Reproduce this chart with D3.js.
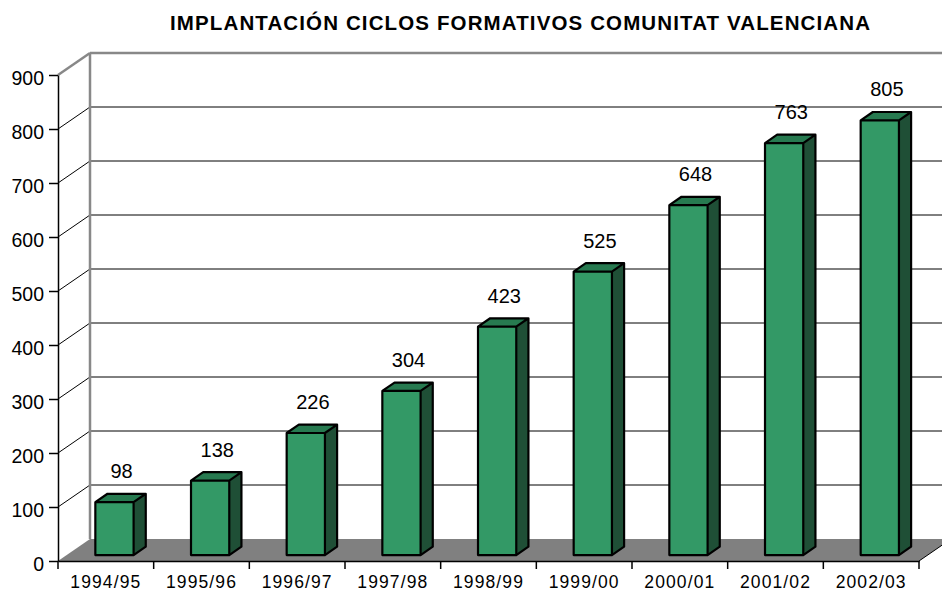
<!DOCTYPE html>
<html>
<head>
<meta charset="utf-8">
<script src="https://cdn.jsdelivr.net/npm/d3@7"></script>
<style>
    body { margin: 0; background: #fff; }
    text { font-family: "Liberation Sans", Arial, sans-serif; }
</style>
</head>
<body>
<script>
var years = ["1994/95", "1995/96", "1996/97", "1997/98", "1998/99", "1999/00", "2000/01", "2001/02", "2002/03"];
var ciclos = [98, 138, 226, 304, 423, 525, 648, 763, 805];
var yTicks = [0, 100, 200, 300, 400, 500, 600, 700, 800, 900];
var title = "IMPLANTACIÓN CICLOS FORMATIVOS COMUNITAT VALENCIANA";

var width = 942;
var height = 593;

//depth of the 3d box
var depthX = 32;
var depthY = -22;

var svg = d3.select("body").append("svg")
    .attr("width", width)
    .attr("height", height)

var x = d3.scaleBand()
    .domain(years)
    .range([58, 919]);

var y = d3.scaleLinear()
    .domain([0, 900])
    .range([561, 75]);

//floor
svg.append("polygon")
    .attr("points", [
        [x.range()[0], y(0)],
        [x.range()[1], y(0)],
        [x.range()[1] + depthX, y(0) + depthY],
        [x.range()[0] + depthX, y(0) + depthY]
    ].join(" "))
    .attr("fill", "#808080");

svg.append("line")
    .attr("x1", x.range()[1]).attr("y1", y(0))
    .attr("x2", x.range()[1] + depthX).attr("y2", y(0) + depthY)
    .attr("stroke", "#000").attr("stroke-width", 1);

//gridlines on back wall and side wall
var grid = svg.append("g");
yTicks.filter(d => d > 0).forEach(function (d) {
    var top = d === 900;
    grid.append("line")
        .attr("x1", x.range()[0] + depthX).attr("y1", y(d) + depthY)
        .attr("x2", x.range()[1] + depthX).attr("y2", y(d) + depthY)
        .attr("stroke", top ? "#888" : "#000")
        .attr("stroke-width", top ? 2.5 : 1);
    grid.append("line")
        .attr("x1", x.range()[0]).attr("y1", y(d))
        .attr("x2", x.range()[0] + depthX).attr("y2", y(d) + depthY)
        .attr("stroke", top ? "#888" : "#000")
        .attr("stroke-width", top ? 2.5 : 1);
});

//back wall left edge
svg.append("line")
    .attr("x1", x.range()[0] + depthX).attr("y1", y(900) + depthY)
    .attr("x2", x.range()[0] + depthX).attr("y2", y(0) + depthY)
    .attr("stroke", "#888").attr("stroke-width", 2.5);

//bars
var barW = x.bandwidth() * 0.4;
var frontD = 0.27;
var barD = 0.38;
var bdx = depthX * barD, bdy = depthY * barD;

var bars = svg.selectAll(".bar")
    .data(ciclos)
    .enter()
    .append("g")
    .attr("class", "bar")
    .attr("transform", function (d, i) {
        var bx = x(years[i]) + (x.bandwidth() - barW) / 2 + depthX * frontD;
        return "translate(" + bx + "," + (depthY * frontD) + ")";
    });

bars.append("polygon")
    .attr("points", function (d) {
        return [[barW, y(d)], [barW + bdx, y(d) + bdy], [barW + bdx, y(0) + bdy], [barW, y(0)]].join(" ");
    })
    .attr("fill", "#1f4f36");

bars.append("polygon")
    .attr("points", function (d) {
        return [[0, y(d)], [bdx, y(d) + bdy], [barW + bdx, y(d) + bdy], [barW, y(d)]].join(" ");
    })
    .attr("fill", "#277a50");

bars.append("rect")
    .attr("x", 0)
    .attr("y", function (d) { return y(d); })
    .attr("width", barW)
    .attr("height", function (d) { return y(0) - y(d); })
    .attr("fill", "#339966");

bars.append("path")
    .attr("d", function (d) {
        return "M0," + y(d) + "L" + bdx + "," + (y(d) + bdy) + "L" + (barW + bdx) + "," + (y(d) + bdy)
            + "L" + (barW + bdx) + "," + (y(0) + bdy) + "L" + barW + "," + y(0) + "L0," + y(0) + "Z"
            + "M0," + y(d) + "L" + barW + "," + y(d) + "L" + barW + "," + y(0)
            + "M" + barW + "," + y(d) + "L" + (barW + bdx) + "," + (y(d) + bdy);
    })
    .attr("fill", "none")
    .attr("stroke", "#000")
    .attr("stroke-width", 2.2)
    .attr("stroke-linejoin", "round");

//value labels
bars.append("text")
    .attr("x", barW / 2 + bdx / 2 + 1)
    .attr("y", function (d) { return y(d) - 24; })
    .attr("text-anchor", "middle")
    .style("font-size", "20px")
    .text(function (d) { return d; });

//y axis
var yAxis = svg.append("g")
    .attr("transform", "translate(" + x.range()[0] + ",0)")
    .call(d3.axisLeft(y).tickValues(yTicks).tickSize(9).tickSizeOuter(0).tickPadding(5));
yAxis.select(".domain").attr("stroke", "#000").attr("stroke-width", 1.5);
yAxis.selectAll("line").attr("stroke", "#000").attr("stroke-width", 1.5);
yAxis.selectAll("text")
    .attr("dy", "0.48em")
    .style("font-size", "19.5px")
    .style("font-family", "'Liberation Sans', Arial, sans-serif")
    .attr("fill", "#000");

//x axis
var xAxis = svg.append("g")
    .attr("transform", "translate(0," + y(0) + ")")
    .call(d3.axisBottom(x).tickSize(0).tickSizeOuter(0).tickPadding(15));
xAxis.select(".domain").attr("stroke", "#000").attr("stroke-width", 1.5);
xAxis.selectAll("text")
    .style("font-size", "17.5px")
    .style("letter-spacing", "1.1px")
    .style("font-family", "'Liberation Sans', Arial, sans-serif")
    .attr("fill", "#000");

//boundary ticks on x axis
xAxis.selectAll(".bound")
    .data(years.concat(["end"]))
    .enter()
    .append("line")
    .attr("class", "bound")
    .attr("x1", function (d) { return d === "end" ? x.range()[1] : x(d); })
    .attr("x2", function (d) { return d === "end" ? x.range()[1] : x(d); })
    .attr("y1", 0)
    .attr("y2", 8)
    .attr("stroke", "#000")
    .attr("stroke-width", 1.5);

//title
svg.append("text")
    .attr("x", 520)
    .attr("y", 30)
    .attr("text-anchor", "middle")
    .attr("textLength", 700)
    .attr("lengthAdjust", "spacing")
    .style("font-size", "20.5px")
    .style("font-weight", "bold")
    .text(title);
</script>
</body>
</html>
